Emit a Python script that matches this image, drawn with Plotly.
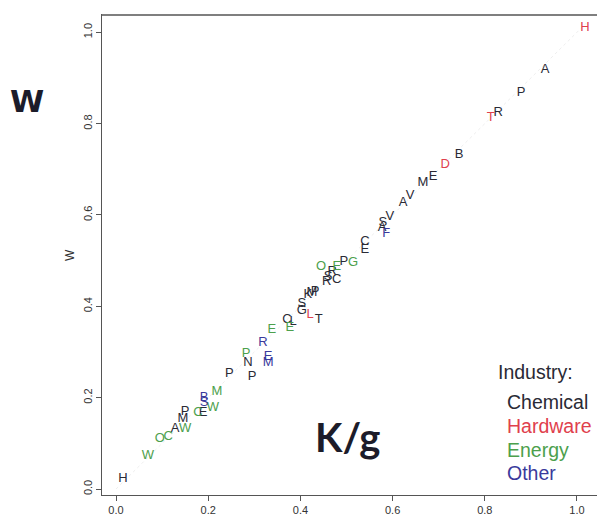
import plotly.graph_objects as go

labels = ["H","A","P","R","T","B","D","E","M","V","A","V","S","A","F","C","E","G","P","O",
          "E","R","S","R","C","P","M","K","S","G","L","T","C","L","E","E","R","P","N","E",
          "M","P","P","M","B","S","W","C","E","P","M","W","A","C","O","W","H"]
x_vals = [1.017,0.931,0.879,0.829,0.813,0.744,0.714,0.688,0.666,0.638,0.623,0.594,0.579,0.577,0.586,
          0.540,0.540,0.514,0.494,0.445,0.479,0.469,0.460,0.457,0.479,0.432,0.425,0.416,0.403,0.403,
          0.421,0.440,0.371,0.384,0.377,0.338,0.319,0.282,0.286,0.330,0.330,0.246,0.295,0.219,0.191,
          0.191,0.210,0.178,0.189,0.150,0.145,0.150,0.128,0.113,0.095,0.069,0.015]
y_vals = [1.009,0.917,0.867,0.823,0.812,0.731,0.710,0.683,0.670,0.642,0.627,0.596,0.583,0.572,0.559,
          0.541,0.524,0.496,0.498,0.487,0.487,0.476,0.465,0.454,0.459,0.432,0.430,0.426,0.406,0.390,
          0.382,0.371,0.371,0.367,0.354,0.349,0.321,0.297,0.277,0.290,0.277,0.253,0.245,0.212,0.199,
          0.190,0.179,0.168,0.166,0.170,0.153,0.131,0.131,0.114,0.111,0.072,0.022]
industry = ["Hardware","Chemical","Chemical","Chemical","Hardware","Chemical","Hardware","Chemical",
            "Chemical","Chemical","Chemical","Chemical","Chemical","Chemical","Other","Chemical",
            "Chemical","Energy","Chemical","Energy","Energy","Chemical","Chemical","Chemical",
            "Chemical","Chemical","Chemical","Chemical","Chemical","Chemical","Hardware","Chemical",
            "Chemical","Chemical","Energy","Energy","Other","Energy","Chemical","Other","Other",
            "Chemical","Chemical","Energy","Other","Other","Energy","Energy","Chemical","Chemical",
            "Chemical","Energy","Chemical","Energy","Energy","Energy","Chemical"]
categories = ["Chemical","Hardware","Energy","Other"]
colors = {"Chemical":"#2a2a35","Hardware":"#e0404c","Energy":"#4ca04c","Other":"#3a3a9c"}

line_x = [0.0, 1.02]
line_y = [0.0, 1.02]

x_ticks = [0.0, 0.2, 0.4, 0.6, 0.8, 1.0]
y_ticks = [0.0, 0.2, 0.4, 0.6, 0.8, 1.0]

fig = go.Figure()
fig.add_trace(go.Scatter(x=line_x, y=line_y, mode="lines",
                         line=dict(color="rgba(0,0,0,0.07)", width=1, dash="dot"),
                         showlegend=False, hoverinfo="skip"))
for cat in categories:
    idx = [i for i, c in enumerate(industry) if c == cat]
    fig.add_trace(go.Scatter(
        x=[x_vals[i] for i in idx], y=[y_vals[i] for i in idx],
        text=[labels[i] for i in idx], mode="text",
        textposition="middle center", cliponaxis=False,
        textfont=dict(family="Liberation Sans, Arial", size=13, color=colors[cat]),
        name=cat, showlegend=False))

axis_common = dict(showgrid=False, zeroline=False, showline=True, linecolor="#555",
                   linewidth=1, ticks="outside", ticklen=5, tickcolor="#555", automargin=False,
                   tickfont=dict(family="Liberation Sans, Arial", size=11, color="#333"))
fig.update_xaxes(range=[-0.0304, 1.0434], tickvals=x_ticks,
                 ticktext=[f"{v:.1f}" for v in x_ticks], **axis_common)
fig.update_yaxes(range=[-0.013, 1.04], tickvals=y_ticks,
                 ticktext=[f"{v:.1f}" for v in y_ticks], tickangle=-90, **axis_common)

# top frame line of the plot box
fig.add_shape(type="line", xref="paper", yref="paper", x0=0, x1=1, y0=0.998, y1=0.998,
              layer="above", line=dict(color="#555", width=1.5))

ann = [
    dict(text="W", x=-0.0646, y=0.499, textangle=-90, font=dict(size=12, color="#333",
         family="Liberation Sans, Arial")),
    dict(text="<b>W</b>", x=-0.1515, y=0.819, font=dict(size=31, color="#1c1c2a",
         family="DejaVu Sans")),
    dict(text="<b>K/g</b>", x=0.495, y=0.121, font=dict(size=40, color="#1c1c2a",
         family="Lato, Open Sans, sans-serif")),
    dict(text="Industry:", x=0.796, y=0.2557, xanchor="left", font=dict(size=19.5, color="#2a2a35",
         family="Liberation Sans, Arial")),
]
leg_y = [0.1933, 0.1435, 0.0936, 0.0457]
for cat, yy in zip(categories, leg_y):
    ann.append(dict(text=cat, x=0.814, y=yy, xanchor="left",
                    font=dict(size=19.5, color=colors[cat], family="Liberation Sans, Arial")))
for a in ann:
    a.update(xref="paper", yref="paper", showarrow=False)
    a.setdefault("xanchor", "center")
    a["yanchor"] = "middle"
fig.update_layout(annotations=ann, width=597, height=523,
                  margin=dict(l=102, r=0, t=14, b=28, pad=0, autoexpand=False),
                  plot_bgcolor="white", paper_bgcolor="white")
fig.write_html("out.html", config={"displayModeBar": False},
               post_script="document.body.style.margin='0';document.body.style.overflow='hidden';")
